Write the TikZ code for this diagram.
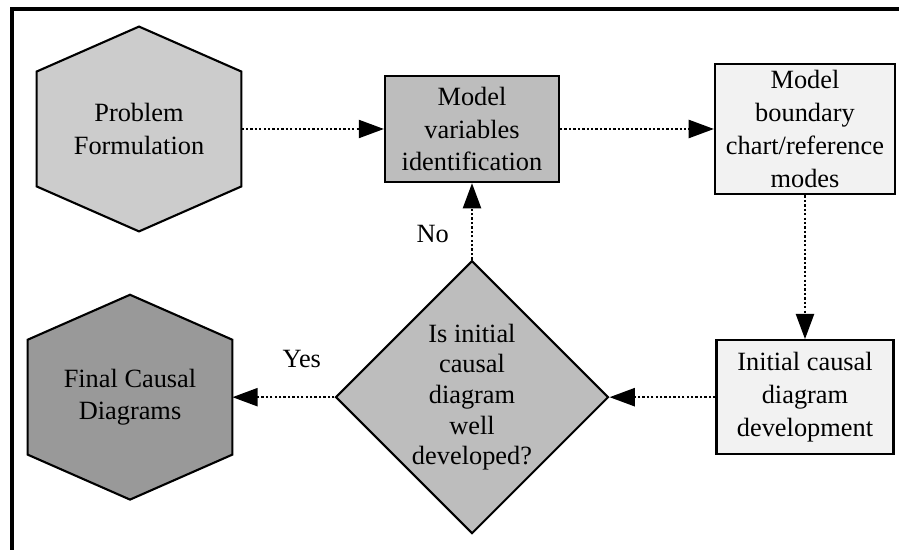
\documentclass[tikz,border=0pt]{standalone}
\usepackage{fontspec}
\setmainfont{Liberation Serif}
\usetikzlibrary{shapes.geometric,arrows.meta,backgrounds}

\definecolor{hexgray}{gray}{0.80}
\definecolor{darkhex}{gray}{0.60}
\definecolor{midgray}{gray}{0.74}
\definecolor{palegray}{gray}{0.95}

\tikzstyle{hexagon} = [
rectangle,
minimum width=3.4cm,
minimum height=1.9cm,
align=center
]
\tikzstyle{process} = [
rectangle,
minimum height=1.77cm,
align=center,
draw=black,
line width=1pt
]
\tikzstyle{decision} = [
diamond,
aspect=1,
minimum size=4.55cm,
inner sep=0pt,
align=center,
draw=black,
line width=1pt,
fill=midgray,
font=\fontsize{12.5}{14.5}\selectfont
]
\tikzstyle{arrow} = [
densely dotted,
line width=1.1pt,
-{Triangle[length=0.42cm,width=0.3cm]}
]

% pointed hexagon drawn round a node
\newcommand{\hexoutline}[2]{
\draw [fill=#2, line width=1pt]
(#1.north west) -- ([yshift=0.75cm]#1.north) -- (#1.north east)
-- (#1.south east) -- ([yshift=-0.75cm]#1.south) -- (#1.south west) -- cycle;
}

\begin{document}
\begin{tikzpicture}[
node distance=5.55cm,
font=\fontsize{12.5}{15.5}\selectfont
]

\useasboundingbox (-2.317,-7.017) rectangle (12.667,2.15);

% frame
\draw [line width=1.9pt] (-2.117,-7.017) |- (12.667,2.0);

\node (problem) [hexagon] {Problem\\Formulation};

\node (variables) [process, right of=problem,
minimum width=2.9cm, fill=midgray]
{Model\\variables\\identification};

\node (boundary) [process, right of=variables,
minimum width=3.0cm, fill=palegray]
{Model\\boundary\\chart/reference\\modes};

\node (initial) [process, below of=boundary,
node distance=4.47cm,
minimum width=2.95cm,
minimum height=1.9cm,
fill=palegray]
{Initial causal\\diagram\\development};

\node (check) [decision, left of=initial]
{Is initial\\causal\\diagram\\well\\developed?};

\node (final) [hexagon, left of=check, xshift=-0.15cm]
{Final Causal\\Diagrams};

\begin{scope}[on background layer]
\hexoutline{problem}{hexgray}
\hexoutline{final}{darkhex}
\end{scope}

\draw [arrow] (problem) -- (variables);

\draw [arrow] (variables) -- (boundary);

\draw [arrow] (boundary) -- (initial);

\draw [arrow] (initial) -- (check);

\draw [arrow] (check) -- node [pos=0.32, above=0.35cm] {Yes} (final);

\draw [arrow] (check) -- node [pos=0.34, left=0.25cm] {No} (variables);

\end{tikzpicture}
\end{document}
